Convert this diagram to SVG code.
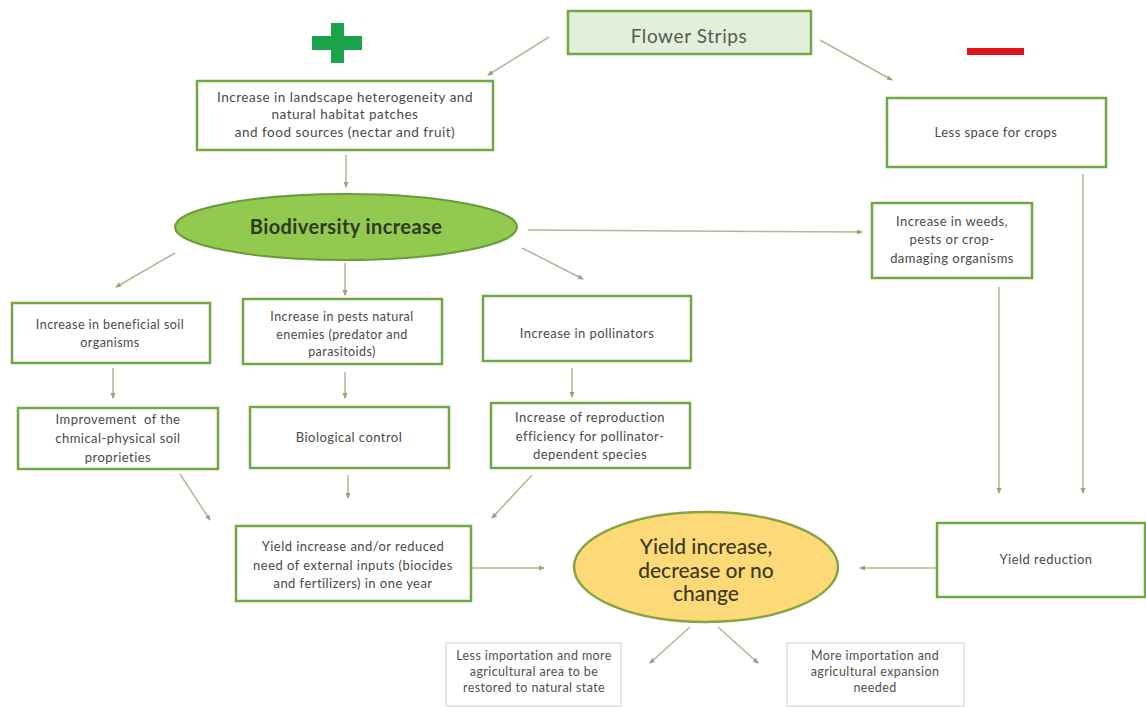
<svg xmlns="http://www.w3.org/2000/svg" width="1146" height="707" viewBox="0 0 1146 707">
<defs>
<style>
.box{fill:#ffffff;stroke:#70a845;stroke-width:2.5}
.thin{fill:#ffffff;stroke:#cfcfcf;stroke-width:1}
.t{font-family:Lato,"Open Sans","Liberation Sans",sans-serif;font-size:13px;letter-spacing:0.45px;fill:#4a4a4a;text-anchor:middle}
.s{font-family:Lato,"Open Sans","Liberation Sans",sans-serif;font-size:12.5px;letter-spacing:0.4px;fill:#505050;text-anchor:middle}
.c{fill:none;stroke:#a6bd98;stroke-width:1.5;marker-end:url(#ah)}
</style>
<marker id="ah" viewBox="0 0 6 6" refX="5" refY="3" markerWidth="6" markerHeight="6" markerUnits="userSpaceOnUse" orient="auto">
<path d="M0,0.5 L6,3 L0,5.5 z" fill="#8fa884"/>
</marker>
</defs>
<rect width="1146" height="707" fill="#ffffff"/>

<g id="plus"><rect x="331" y="23" width="13" height="40" fill="#1ba34c"/><rect x="312" y="36" width="50" height="14" fill="#1ba34c"/></g>
<g id="minus"><rect x="967" y="48" width="57" height="7" fill="#e0141b"/></g>

<g id="connectors">
<line class="c" x1="549" y1="37" x2="488" y2="75"/>
<line class="c" x1="820" y1="40" x2="892" y2="80"/>
<line class="c" x1="346" y1="155" x2="346" y2="187"/>
<line class="c" x1="528" y1="230" x2="862" y2="232"/>
<line class="c" x1="175" y1="253" x2="116" y2="287"/>
<line class="c" x1="345" y1="263" x2="345" y2="295"/>
<line class="c" x1="522" y1="248" x2="583" y2="279"/>
<line class="c" x1="113" y1="368" x2="113" y2="398"/>
<line class="c" x1="345" y1="372" x2="345" y2="398"/>
<line class="c" x1="572" y1="368" x2="572" y2="397"/>
<line class="c" x1="180" y1="474" x2="210" y2="520"/>
<line class="c" x1="348" y1="475" x2="348" y2="498"/>
<line class="c" x1="532" y1="475" x2="492" y2="518"/>
<line class="c" x1="471" y1="568" x2="544" y2="568"/>
<line class="c" x1="937" y1="568" x2="860" y2="568"/>
<line class="c" x1="999" y1="287" x2="999" y2="493"/>
<line class="c" x1="1083" y1="174" x2="1083" y2="493"/>
<line class="c" x1="690" y1="627" x2="650" y2="663"/>
<line class="c" x1="718" y1="627" x2="758" y2="663"/>
</g>

<g id="flower-strips">
<rect x="568" y="11" width="243" height="43" fill="#e2efd9" stroke="#70a845" stroke-width="2.5"/>
<text x="689" y="43" style="font-family:Lato,'Open Sans','Liberation Sans',sans-serif;font-size:19px;letter-spacing:0.6px;fill:#595959;text-anchor:middle">Flower Strips</text>
</g>

<g id="landscape">
<rect class="box" x="197" y="81" width="296" height="69"/>
<text class="t" style="font-size:13.5px;letter-spacing:0.5px" x="345" y="102">Increase in landscape heterogeneity and</text>
<text class="t" style="font-size:13.5px;letter-spacing:0.5px" x="345" y="119">natural habitat patches</text>
<text class="t" style="font-size:13.5px;letter-spacing:0.5px" x="345" y="137">and food sources (nectar and fruit)</text>
</g>

<g id="less-space">
<rect class="box" x="887" y="98" width="219" height="69"/>
<text class="t" x="996" y="137">Less space for crops</text>
</g>

<g id="biodiversity">
<ellipse cx="346" cy="227" rx="171" ry="33" fill="#92c94f" stroke="#6a9a3c" stroke-width="2"/>
<text x="346" y="234" style="font-family:Lato,'Open Sans','Liberation Sans',sans-serif;font-size:20px;font-weight:bold;letter-spacing:0.4px;fill:#2e3a22;text-anchor:middle">Biodiversity increase</text>
</g>

<g id="weeds">
<rect class="box" x="872" y="203" width="160" height="75"/>
<text class="t" x="952" y="226">Increase in weeds,</text>
<text class="t" x="952" y="244">pests or crop-</text>
<text class="t" x="952" y="263">damaging organisms</text>
</g>

<g id="soil-organisms">
<rect class="box" x="12" y="303" width="198" height="60"/>
<text class="t" style="font-size:12.5px" x="110" y="329">Increase in beneficial soil</text>
<text class="t" style="font-size:12.5px" x="110" y="347">organisms</text>
</g>

<g id="natural-enemies">
<rect class="box" x="243" y="299" width="199" height="65"/>
<text class="t" style="font-size:12.5px" x="342" y="321">Increase in pests natural</text>
<text class="t" style="font-size:12.5px" x="342" y="339">enemies (predator and</text>
<text class="t" style="font-size:12.5px" x="342" y="356">parasitoids)</text>
</g>

<g id="pollinators">
<rect class="box" x="483" y="296" width="208" height="65"/>
<text class="t" x="587" y="338">Increase in pollinators</text>
</g>

<g id="soil-improvement">
<rect class="box" x="18" y="408" width="200" height="61"/>
<text class="t" x="118" y="424" xml:space="preserve">Improvement  of the</text>
<text class="t" x="118" y="443">chmical-physical soil</text>
<text class="t" x="118" y="462">proprieties</text>
</g>

<g id="biological-control">
<rect class="box" x="250" y="407" width="199" height="61"/>
<text class="t" x="349" y="442">Biological control</text>
</g>

<g id="reproduction">
<rect class="box" x="491" y="403" width="199" height="65"/>
<text class="t" x="590" y="422">Increase of reproduction</text>
<text class="t" x="590" y="441">efficiency for pollinator-</text>
<text class="t" x="590" y="459">dependent species</text>
</g>

<g id="yield-inputs">
<rect class="box" x="236" y="526" width="235" height="75"/>
<text class="t" x="353" y="551">Yield increase and/or reduced</text>
<text class="t" x="353" y="570">need of external inputs (biocides</text>
<text class="t" x="353" y="588">and fertilizers) in one year</text>
</g>

<g id="yield-change">
<ellipse cx="706" cy="567" rx="132" ry="55" fill="#fdd978" stroke="#86a542" stroke-width="2.5"/>
<text x="706" y="554" style="font-family:Lato,'Open Sans','Liberation Sans',sans-serif;font-size:21px;font-weight:500;fill:#3c3a22;text-anchor:middle">Yield increase,</text>
<text x="706" y="578" style="font-family:Lato,'Open Sans','Liberation Sans',sans-serif;font-size:21px;font-weight:500;fill:#3c3a22;text-anchor:middle">decrease or no</text>
<text x="706" y="601" style="font-family:Lato,'Open Sans','Liberation Sans',sans-serif;font-size:21px;font-weight:500;fill:#3c3a22;text-anchor:middle">change</text>
</g>

<g id="yield-reduction">
<rect class="box" x="937" y="523" width="208" height="74"/>
<text class="t" x="1046" y="564">Yield reduction</text>
</g>

<g id="less-importation">
<rect class="thin" x="446" y="643" width="175" height="63"/>
<text class="s" x="534" y="660">Less importation and more</text>
<text class="s" x="534" y="676">agricultural area to be</text>
<text class="s" x="534" y="692">restored to natural state</text>
</g>

<g id="more-importation">
<rect class="thin" x="787" y="643" width="177" height="63"/>
<text class="s" x="875" y="660">More importation and</text>
<text class="s" x="875" y="676">agricultural expansion</text>
<text class="s" x="875" y="692">needed</text>
</g>
</svg>
